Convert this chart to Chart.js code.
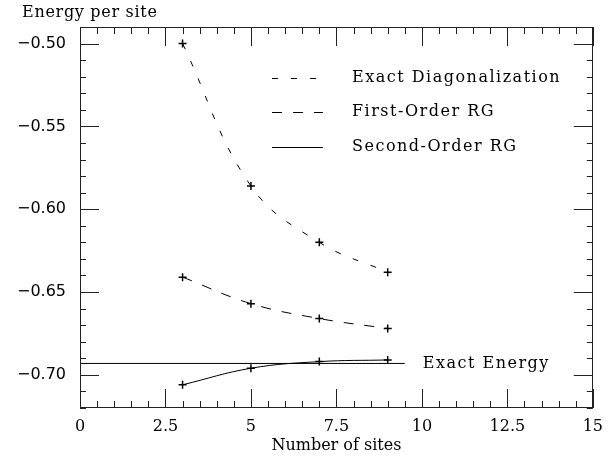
<!DOCTYPE html>
<html>
<head>
<meta charset="utf-8">
<script src="https://cdn.jsdelivr.net/npm/chart.js@4/dist/chart.umd.min.js"></script>
<style>
  html, body { margin: 0; padding: 0; background: #fff; }
  #wrap { width: 612px; height: 459px; }
</style>
</head>
<body>
<div id="wrap"><canvas id="c" width="612" height="459"></canvas></div>
<script>
// ---- data ----
const xValues = [3, 5, 7, 9];
const exactDiag = [-0.500, -0.586, -0.620, -0.638];
const firstOrder = [-0.641, -0.657, -0.666, -0.672];
const secondOrder = [-0.706, -0.696, -0.692, -0.691];
const exactEnergyX = [0, 9.5];
const exactEnergyValue = -0.6931;
const seriesLabels = ['Exact Diagonalization', 'First-Order RG', 'Second-Order RG'];
const exactEnergyLabel = 'Exact Energy';
const xTicks = [0, 2.5, 5, 7.5, 10, 12.5, 15];
const yTicks = [-0.70, -0.65, -0.60, -0.55, -0.50];
const xTitle = 'Number of sites';
const yTitle = 'Energy per site';

const pts = (ys) => xValues.map((x, i) => ({ x: x, y: ys[i] }));
const SERIF = "'DejaVu Serif', serif";
const SANS = "'DejaVu Sans', sans-serif";

const decor = {
  id: 'decor',
  afterDraw(chart) {
    const ctx = chart.ctx;
    const a = chart.chartArea;
    const xs = chart.scales.x, ys = chart.scales.y;
    ctx.save();
    ctx.strokeStyle = '#222';
    ctx.lineWidth = 1;
    ctx.setLineDash([]);
    // frame
    ctx.strokeRect(Math.round(a.left) + 0.5, Math.round(a.top) + 0.5,
                   Math.round(a.right - a.left) - 1, Math.round(a.bottom - a.top) - 1);
    // x ticks (major/minor), bottom and top, inside
    ctx.beginPath();
    for (let k = 0; k <= 30; k++) {
      const v = k * 0.5;
      const major = k % 5 === 0;
      const len = major ? 19 : 7;
      const px = Math.round(xs.getPixelForValue(v)) + 0.5;
      ctx.moveTo(px, a.bottom); ctx.lineTo(px, a.bottom - len);
      ctx.moveTo(px, a.top); ctx.lineTo(px, a.top + len);
    }
    // y ticks
    for (let k = 49; k <= 72; k++) {
      const v = -k / 100;
      const major = k % 5 === 0;
      const len = major ? 19 : 6;
      const py = Math.round(ys.getPixelForValue(v)) + 0.5;
      ctx.moveTo(a.left, py); ctx.lineTo(a.left + len, py);
      ctx.moveTo(a.right, py); ctx.lineTo(a.right - len, py);
    }
    ctx.stroke();

    // y title (horizontal, top-left)
    ctx.fillStyle = '#000';
    try { ctx.letterSpacing = '0.7px'; } catch (e) {}
    ctx.font = '16px ' + SERIF;
    ctx.textBaseline = 'middle';
    ctx.textAlign = 'left';
    ctx.fillText(yTitle, 22, 13);

    // legend
    try { ctx.letterSpacing = '1.5px'; } catch (e) {}
    const lx0 = a.left + 192, lx1 = a.left + 243, tx = a.left + 272;
    const rows = [78, 112, 147];
    chart.data.datasets.slice(0, 3).forEach((ds, i) => {
      ctx.strokeStyle = '#000';
      ctx.lineWidth = 1;
      ctx.setLineDash(ds.borderDash || []);
      ctx.beginPath();
      ctx.moveTo(lx0, rows[i] + 0.5); ctx.lineTo(lx1, rows[i] + 0.5);
      ctx.stroke();
      ctx.setLineDash([]);
      ctx.fillText(ds.label, tx, rows[i]);
    });

    // exact energy label
    const ex = xs.getPixelForValue(exactEnergyX[1]) + 18;
    const ey = ys.getPixelForValue(exactEnergyValue);
    ctx.fillText(exactEnergyLabel, ex, ey);
    ctx.restore();
  }
};

new Chart(document.getElementById('c'), {
  type: 'line',
  data: {
    datasets: [
      { label: seriesLabels[0], data: pts(exactDiag), borderColor: '#000', borderWidth: 1,
        borderDash: [6, 13], tension: 0.4,
        pointStyle: 'cross', pointRadius: 4, pointBorderWidth: 1.5, pointBorderColor: '#000' },
      { label: seriesLabels[1], data: pts(firstOrder), borderColor: '#000', borderWidth: 1,
        borderDash: [10, 11], tension: 0.4,
        pointStyle: 'cross', pointRadius: 4, pointBorderWidth: 1.5, pointBorderColor: '#000' },
      { label: seriesLabels[2], data: pts(secondOrder), borderColor: '#000', borderWidth: 1,
        tension: 0.4,
        pointStyle: 'cross', pointRadius: 4, pointBorderWidth: 1.5, pointBorderColor: '#000' },
      { label: exactEnergyLabel, data: exactEnergyX.map(x => ({ x: x, y: exactEnergyValue })),
        borderColor: '#000', borderWidth: 1, pointRadius: 0 }
    ]
  },
  options: {
    responsive: false,
    animation: false,
    devicePixelRatio: 1,
    layout: { padding: { top: 27, right: 10, left: 0, bottom: 0 } },
    plugins: { legend: { display: false }, tooltip: { enabled: false } },
    scales: {
      x: {
        type: 'linear', min: 0, max: 15,
        afterBuildTicks: s => { s.ticks = xTicks.map(v => ({ value: v })); },
        afterFit: s => { s.height = 51; },
        grid: { display: false, drawTicks: false },
        border: { display: false },
        ticks: { padding: 9, color: '#000', maxRotation: 0, autoSkip: false,
                 font: { family: SERIF, size: 16 }, callback: v => String(v) },
        title: { display: true, text: xTitle, color: '#000',
                 font: { family: SERIF, size: 16 }, padding: { top: 0, bottom: 4 } }
      },
      y: {
        type: 'linear', min: -0.72, max: -0.49,
        afterBuildTicks: s => { s.ticks = yTicks.map(v => ({ value: v })); },
        afterFit: s => { s.width = 80; },
        grid: { display: false, drawTicks: false },
        border: { display: false },
        ticks: { padding: 14, color: '#000', autoSkip: false,
                 font: { family: SANS, size: 16 },
                 callback: v => (v < 0 ? '\u2212' : '') + Math.abs(v).toFixed(2) }
      }
    }
  },
  plugins: [decor]
});
</script>
</body>
</html>
